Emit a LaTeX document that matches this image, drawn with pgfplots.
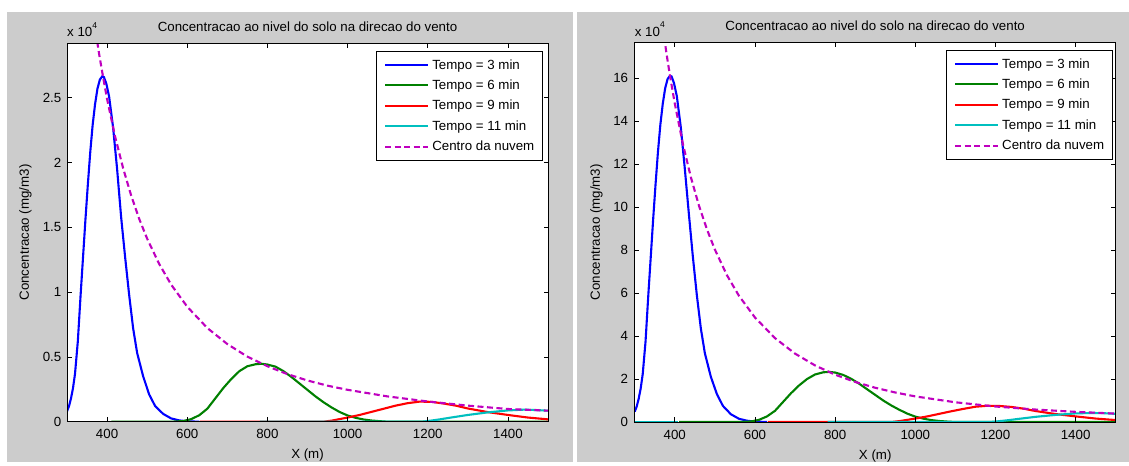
\documentclass[border=0pt]{standalone}
\usepackage{pgfplots}
\pgfplotsset{compat=1.18}
\usepackage{fontspec}
\setmainfont{Liberation Sans}
\definecolor{figgray}{RGB}{204,204,204}
\definecolor{mblue}{RGB}{0,0,255}
\definecolor{mgreen}{RGB}{0,128,0}
\definecolor{mred}{RGB}{255,0,0}
\definecolor{mcyan}{RGB}{0,191,191}
\definecolor{mmag}{RGB}{191,0,191}
\newcommand\mfont{\fontsize{13.3bp}{16bp}\selectfont}
\pgfplotsset{
 mstyle/.style={
  scale only axis, width=481bp,
  xmin=300, xmax=1500, ymin=0,
  xtick={400,600,800,1000,1200,1400},
  xticklabels={400,600,800,1000,1200,1400},
  axis on top,
  clip mode=individual,
  axis background/.style={fill=white},
  tick pos=both,
  major tick length=4.5bp,
  tick style={black, line width=0.6bp},
  axis line style={line width=0.8bp},
  tick label style={font=\mfont, inner sep=0pt},
  xticklabel style={anchor=center, yshift=-12.5bp},
  yticklabel style={anchor=east, xshift=-5.5bp},
  label style={font=\mfont},
  every axis title shift=0pt,
  title style={font=\mfont, anchor=center, yshift=0pt},
  xlabel={X (m)},
  ylabel={Concentracao (mg/m3)},
  title={Concentracao ao nivel do solo na direcao do vento},
  legend cell align=left,
  legend image code/.code={\draw[#1] (0bp,0bp) -- (43bp,0bp);},
  legend style={anchor=north east, draw=black, line width=0.8bp, fill=white,
     font=\mfont, inner xsep=8bp, inner ysep=8bp, row sep=9.3bp,
     nodes={inner sep=0pt},
     /tikz/every odd column/.append style={column sep=3bp}},
 },
 sb/.style={mblue, line width=2.1bp},
 sg/.style={mgreen, line width=2.1bp},
 sr/.style={mred, line width=2.1bp},
 sc/.style={mcyan, line width=2.1bp},
 sm/.style={mmag, line width=2.1bp, dash pattern=on 6bp off 3.5bp},
}
\begin{document}
\begin{tikzpicture}[x=1bp,y=1bp]
\fill[white] (0,0) rectangle (1129,462);
\fill[figgray] (7,0) rectangle (573,450);
\fill[figgray] (577,0) rectangle (1129,450);
% ---------------- left panel ----------------
\begin{axis}[mstyle, at={(67bp,40.3bp)}, anchor=south west, height=378.4bp,
  ymax=2.92,
  ytick={0,0.5,1,1.5,2,2.5}, yticklabels={0,0.5,1,1.5,2,2.5},
  title style={at={(0.5,1.0439)}},
  xlabel style={at={(0.5,-0.089)}, anchor=center},
  ylabel style={at={(-0.0865,0.5)}, anchor=center},
  legend style={at={(1,1)}, xshift=-5.3bp, yshift=-7.7bp}]
\addplot[sc, forget plot] coordinates {(300,0)(411,0)};
\addplot[sb] coordinates {(300,0.08)(305,0.12)(310,0.18)(315,0.26)(320,0.37)(327,0.62)(334,0.98)(340,1.27)(346,1.56)(352,1.83)(358,2.08)(364,2.29)(370,2.45)(376,2.57)(382,2.64)(388,2.665)(392,2.66)(398,2.61)(405,2.51)(415,2.27)(425,1.95)(435,1.58)(445,1.27)(455,0.98)(465,0.72)(475,0.53)(490,0.35)(505,0.21)(520,0.12)(540,0.06)(560,0.025)(580,0.01)(600,0.003)(630,0)};
\addlegendentry{Tempo = 3 min}
\addplot[sg] coordinates {(411,0)(560,0)(590,0.005)(610,0.02)(630,0.05)(650,0.1)(670,0.18)(690,0.26)(710,0.33)(730,0.39)(750,0.428)(770,0.443)(785,0.447)(800,0.441)(820,0.425)(840,0.39)(860,0.345)(880,0.295)(900,0.245)(920,0.195)(940,0.15)(960,0.11)(980,0.075)(1000,0.048)(1020,0.03)(1040,0.017)(1060,0.009)(1080,0.004)(1100,0)(1500,0)};
\addlegendentry{Tempo = 6 min}
\addplot[sr] coordinates {(632,0)(940,0)(960,0.008)(980,0.02)(1000,0.032)(1030,0.052)(1060,0.076)(1090,0.1)(1120,0.124)(1150,0.143)(1180,0.155)(1210,0.153)(1240,0.14)(1270,0.124)(1300,0.102)(1350,0.074)(1400,0.052)(1450,0.032)(1500,0.018)};
\addlegendentry{Tempo = 9 min}
\addplot[sc] coordinates {(781,0)(1185,0)(1200,0.005)(1230,0.018)(1260,0.033)(1300,0.052)(1350,0.072)(1400,0.087)(1440,0.093)(1470,0.09)(1500,0.085)};
\addlegendentry{Tempo = 11 min}
\addplot[sm] coordinates {(365,3.15)(370,3.04)(380,2.84)(390,2.66)(400,2.49)(420,2.2)(440,1.956)(460,1.746)(480,1.566)(500,1.412)(530,1.217)(560,1.057)(600,0.887)(650,0.723)(700,0.599)(750,0.502)(800,0.428)(850,0.367)(900,0.318)(950,0.278)(1000,0.246)(1100,0.195)(1200,0.156)(1300,0.124)(1400,0.098)(1500,0.085)};
\addlegendentry{Centro da nuvem}
\node[anchor=base west, font=\mfont, inner sep=0pt] at (rel axis cs:0,1) [yshift=6.6bp] {x 10\raisebox{8.6bp}{\fontsize{8.5bp}{8.5bp}\selectfont 4}};
\end{axis}
% ---------------- right panel ----------------
\begin{axis}[mstyle, at={(634.7bp,40bp)}, anchor=south west, height=379.3bp,
  ymax=17.64,
  ytick={0,2,4,6,8,10,12,14,16}, yticklabels={0,2,4,6,8,10,12,14,16},
  yticklabel style={xshift=-0.9bp},
  title style={at={(0.5,1.044)}},
  xlabel style={at={(0.5,-0.089)}, anchor=center},
  ylabel style={at={(-0.0796,0.5)}, anchor=center},
  legend style={at={(1,1)}, xshift=-3.1bp, yshift=-7.3bp}]
\addplot[sc, forget plot] coordinates {(300,0)(408,0)};
\addplot[sb] coordinates {(300,0.48)(305,0.72)(310,1.09)(315,1.57)(320,2.23)(327,3.74)(334,5.92)(340,7.67)(346,9.42)(352,11.05)(358,12.56)(364,13.83)(370,14.8)(376,15.52)(382,15.95)(388,16.1)(392,16.07)(398,15.76)(405,15.16)(415,13.71)(425,11.78)(435,9.7)(445,7.7)(455,5.9)(465,4.35)(475,3.2)(490,2.1)(505,1.3)(520,0.75)(540,0.36)(560,0.15)(580,0.06)(600,0.02)(630,0)};
\addlegendentry{Tempo = 3 min}
\addplot[sg] coordinates {(411,0)(560,0)(590,0.026)(610,0.1)(630,0.26)(650,0.52)(670,0.93)(690,1.34)(710,1.7)(730,2.0)(750,2.21)(770,2.31)(785,2.33)(800,2.3)(820,2.19)(840,2.01)(860,1.78)(880,1.52)(900,1.26)(920,1.0)(940,0.77)(960,0.57)(980,0.39)(1000,0.25)(1020,0.155)(1040,0.088)(1060,0.046)(1080,0.02)(1100,0)(1500,0)};
\addlegendentry{Tempo = 6 min}
\addplot[sr] coordinates {(632,0)(940,0)(960,0.04)(980,0.1)(1000,0.16)(1030,0.26)(1060,0.38)(1090,0.5)(1120,0.61)(1150,0.71)(1180,0.755)(1210,0.745)(1240,0.7)(1270,0.62)(1300,0.51)(1350,0.37)(1400,0.26)(1450,0.16)(1500,0.09)};
\addlegendentry{Tempo = 9 min}
\addplot[sc] coordinates {(781,0)(1185,0)(1200,0.02)(1230,0.08)(1260,0.15)(1300,0.24)(1350,0.33)(1400,0.4)(1440,0.42)(1470,0.41)(1500,0.38)};
\addlegendentry{Tempo = 11 min}
\addplot[sm] coordinates {(370,18.35)(380,17.05)(388,16.1)(400,14.81)(420,12.95)(440,11.39)(460,10.08)(480,8.97)(500,8.02)(530,6.83)(560,5.87)(600,4.86)(650,3.9)(700,3.18)(750,2.63)(800,2.2)(850,1.863)(900,1.592)(950,1.372)(1000,1.19)(1100,0.917)(1200,0.72)(1300,0.579)(1400,0.472)(1500,0.39)};
\addlegendentry{Centro da nuvem}
\node[anchor=base west, font=\mfont, inner sep=0pt] at (rel axis cs:0,1) [yshift=6.6bp] {x 10\raisebox{8.6bp}{\fontsize{8.5bp}{8.5bp}\selectfont 4}};
\end{axis}
\end{tikzpicture}
\end{document}
